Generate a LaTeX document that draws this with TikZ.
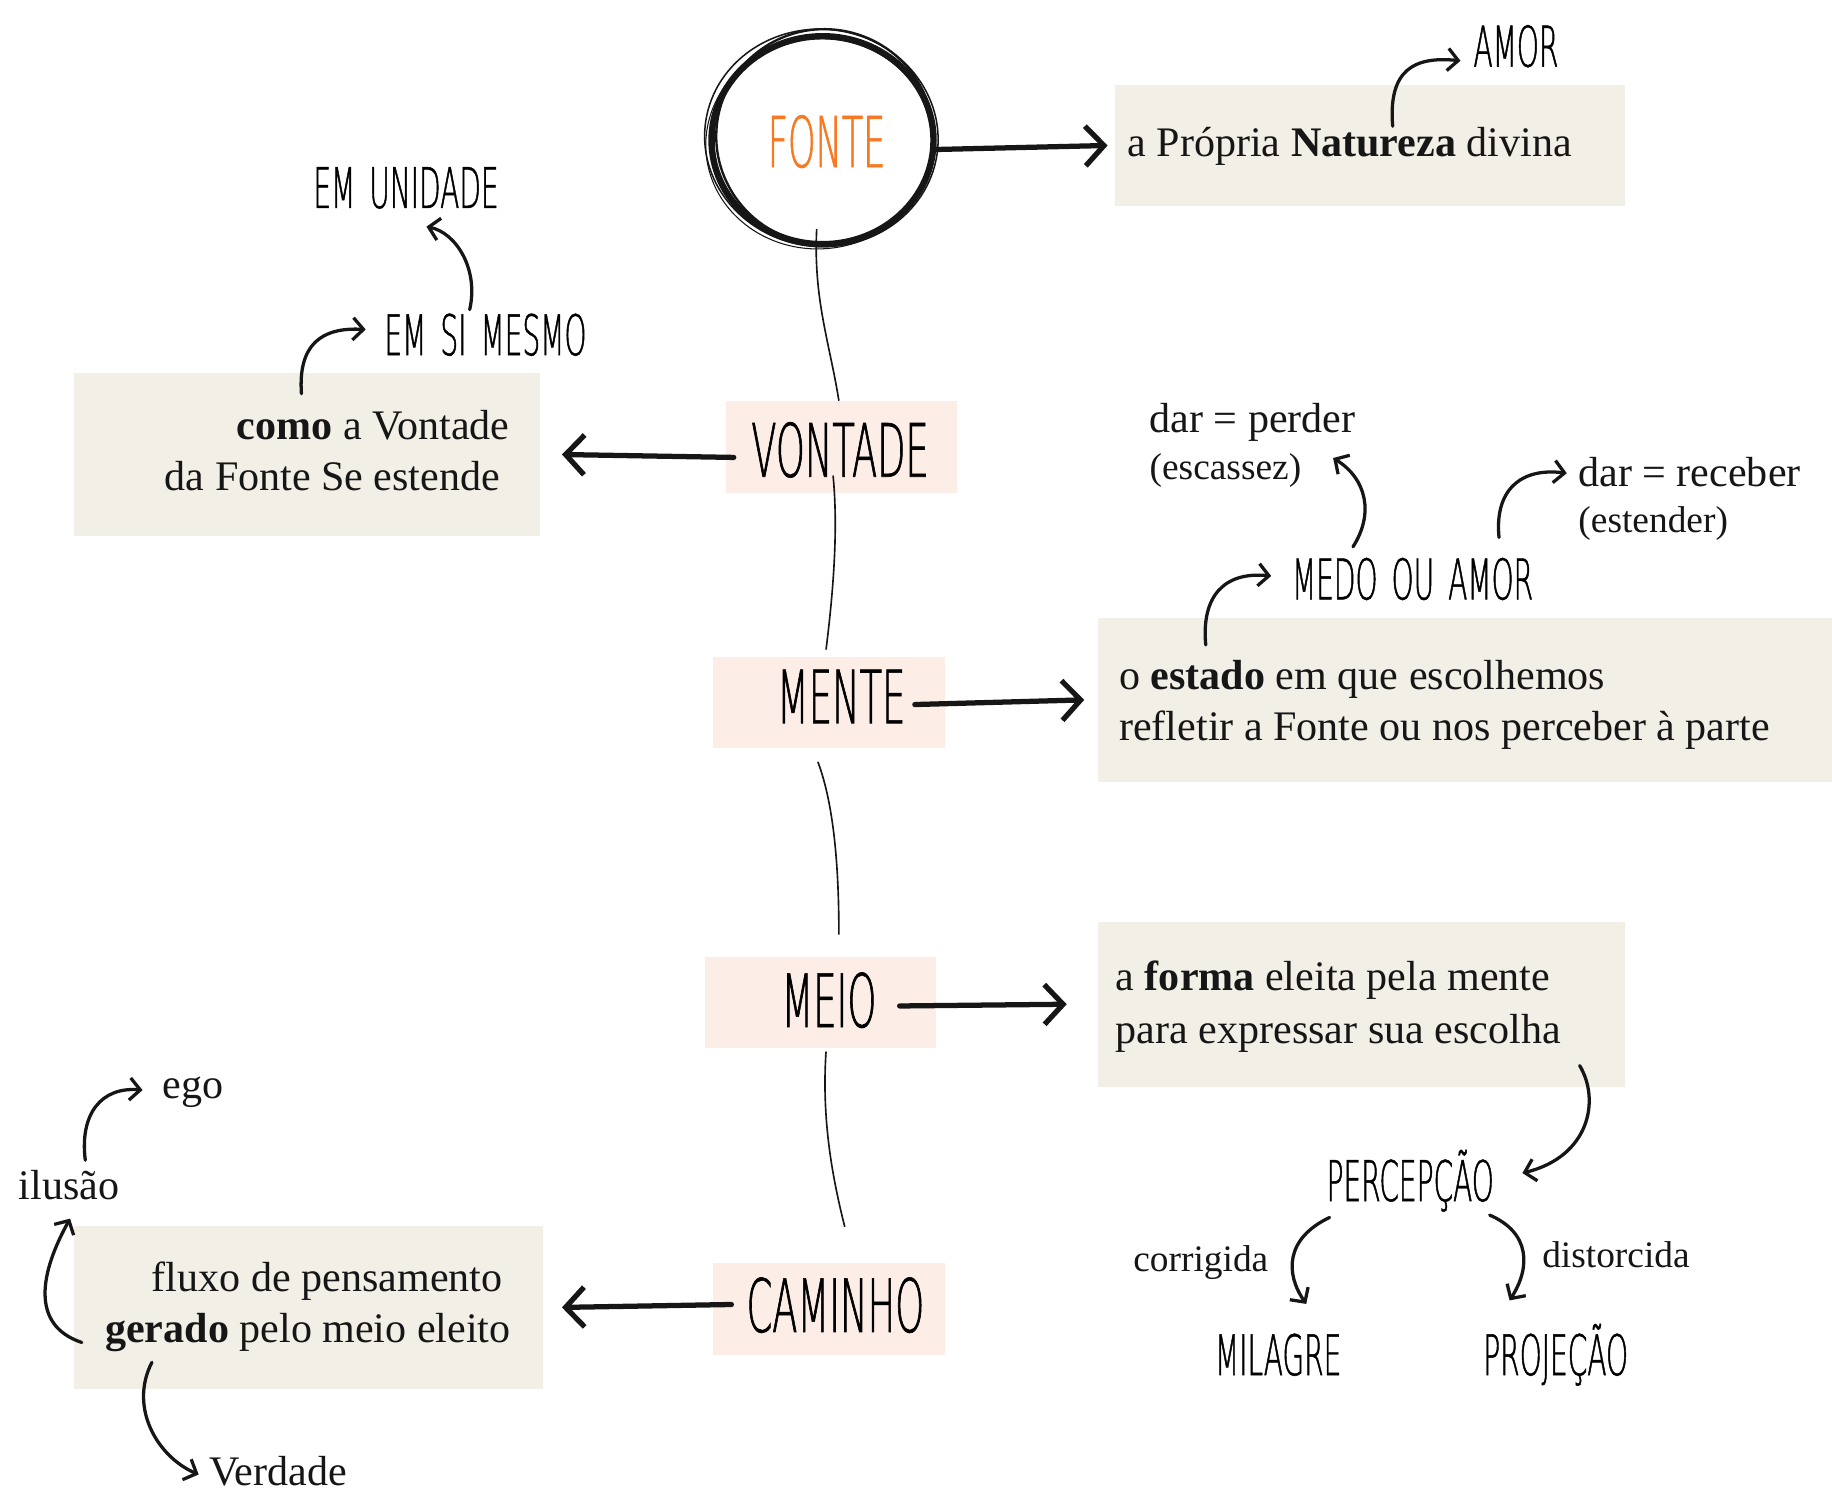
\documentclass[tikz,border=0pt]{standalone}
\usepackage{fontspec}
\setmainfont{Liberation Serif}
\IfFontExistsTF{DejaVu Sans ExtraLight}
  {\newfontfamily\handfont[FakeStretch=0.5,FakeBold=0.8]{DejaVu Sans ExtraLight}}
  {\newfontfamily\handfont[FakeStretch=0.5]{DejaVu Sans}}
\usetikzlibrary{arrows.meta,shapes.geometric}
\definecolor{beige}{RGB}{242,239,230}
\definecolor{pinkbg}{RGB}{252,237,230}
\definecolor{fonteorange}{RGB}{247,121,36}
\definecolor{ink}{RGB}{22,22,22}
\newcommand{\hsp}{\hspace{12pt}}
\tikzset{
  beigebox/.style={fill=beige, draw=none, inner sep=0pt, outer sep=0pt, anchor=north west},
  pinkbox/.style={fill=pinkbg, draw=none, inner sep=0pt, outer sep=0pt, anchor=north west},
  serif/.style={inner sep=0pt, outer sep=0pt, font=\fontsize{36}{44}\selectfont, text height=25pt, text depth=8pt, text=ink},
  smallserif/.style={inner sep=0pt, outer sep=0pt, font=\fontsize{32}{38}\selectfont, text height=22pt, text depth=7pt, text=ink},
  bighand/.style={inner sep=0pt, outer sep=0pt, anchor=base, font=\handfont\fontsize{63}{70}\selectfont, text=black},
  midhand/.style={inner sep=0pt, outer sep=0pt, anchor=base, font=\handfont\fontsize{48}{54}\selectfont, text=black},
  conn/.style={line width=1.4pt, draw=ink},
  bigarrow/.style={line width=4.5pt, draw=ink, line cap=round, -{Straight Barb[length=16pt,width=34pt]}},
  curvarrow/.style={line width=2.8pt, draw=ink, line cap=round, -{Straight Barb[length=9pt,width=19pt]}},
}
\begin{document}
\begin{tikzpicture}[x=1pt,y=-1pt]
\useasboundingbox[fill=white] (0,0) rectangle (1568,1278);

% ---------- boxes ----------
\node[beigebox, minimum width=437pt, minimum height=103pt] (box1) at (954,73) {};
\node[beigebox, minimum width=399pt, minimum height=140pt] (box2) at (63,319) {};
\node[beigebox, minimum width=628pt, minimum height=140pt] (box3) at (940,529) {};
\node[beigebox, minimum width=451pt, minimum height=141pt] (box4) at (940,789) {};
\node[beigebox, minimum width=402pt, minimum height=140pt] (box5) at (63,1049) {};

\node[pinkbox, minimum width=198pt, minimum height=79pt] (vontade) at (621,343) {};
\node[pinkbox, minimum width=199pt, minimum height=78pt] (mente) at (610,562) {};
\node[pinkbox, minimum width=198pt, minimum height=78pt] (meio) at (603,819) {};
\node[pinkbox, minimum width=199pt, minimum height=79pt] (caminho) at (610,1081) {};

% ---------- FONTE circle ----------
\node[ellipse, draw=ink, line width=5.5pt, minimum width=190pt, minimum height=178pt, inner sep=0pt, outer sep=0pt] (fonte) at (704,120) {};
\draw[ink, line width=1.3pt, rotate around={-6:(703,118)}] (703,118) ellipse [x radius=100, y radius=93];
\draw[ink, line width=0.9pt, rotate around={5:(701,123)}] (701,123) ellipse [x radius=97, y radius=90];
\draw[ink, line width=2pt, rotate around={-12:(706,117)}] (706,117) ellipse [x radius=93, y radius=92];
\node[bighand, text=fonteorange, font=\handfont\fontsize{60}{64}\selectfont] (fontetxt) at (707.5,143) {FONTE};

% ---------- big hand texts ----------
\node[bighand] (vontadetxt) at (719,408) {VONTADE};
\node[bighand] (mentetxt) at (720,619) {MENTE};
\node[bighand] (meiotxt) at (709.5,879) {MEIO};
\node[bighand] (caminhotxt) at (715,1140) {CAMINHO};

% ---------- mid hand texts ----------
\node[midhand] (amor) at (1297.5,57) {AMOR};
\node[midhand] (emunidade) at (347.5,178) {EM\hsp UNIDADE};
\node[midhand] (emsi) at (415.5,304) {EM\hsp SI\hsp MESMO};
\node[midhand] (medo) at (1209,513) {MEDO\hsp OU\hsp AMOR};
\node[midhand] (percepcao) at (1207,1028) {PERCEPÇÃO};
\node[midhand] (milagre) at (1094,1177) {MILAGRE};
\node[midhand] (projecao) at (1331.5,1177) {PROJEÇÃO};

% ---------- serif texts ----------
\node[serif, anchor=base west] (t1) at (965,134) {a Própria \textbf{Natureza} divina};
\node[serif, anchor=base east] (t2a) at (436,376) {\textbf{como} a Vontade};
\node[serif, anchor=base east] (t2b) at (428,420) {da Fonte Se estende};
\node[serif, anchor=base west] (t3a) at (958,590) {o \textbf{estado} em que escolhemos};
\node[serif, anchor=base west] (t3b) at (958,634) {refletir a Fonte ou nos perceber à parte};
\node[serif, anchor=base west] (t4a) at (955,848) {a \textbf{forma} eleita pela mente};
\node[serif, anchor=base west] (t4b) at (955,893) {para expressar sua escolha};
\node[serif, anchor=base east] (t5a) at (430,1105) {fluxo de pensamento};
\node[serif, anchor=base east] (t5b) at (437,1149) {\textbf{gerado} pelo meio eleito};

\node[serif, anchor=base west] (darperder) at (984,370) {dar = perder};
\node[smallserif, anchor=base west] (escassez) at (984,410) {(escassez)};
\node[serif, anchor=base west] (darreceber) at (1351,416) {dar = receber};
\node[smallserif, anchor=base west] (estender) at (1351,456) {(estender)};
\node[smallserif, anchor=base west] (corrigida) at (970,1088) {corrigida};
\node[smallserif, anchor=base west] (distorcida) at (1320,1085) {distorcida};
\node[serif, anchor=base west] (ilusao) at (16,1027) {ilusão};
\node[serif, anchor=base west] (ego) at (139,940) {ego};
\node[serif, anchor=base west] (verdade) at (179,1271) {Verdade};

% ---------- thin connectors (spine) ----------
\draw[conn] ([xshift=-5pt,yshift=13pt]fonte.south) .. controls +(-3,60) and +(-8,-50) .. ([xshift=-2pt]vontade.north);
\draw[conn] ([xshift=-7pt,yshift=15pt]vontade.south) .. controls +(5,50) and +(5,-40) .. ([xshift=-2.5pt,yshift=6pt]mente.north);
\draw[conn] ([xshift=-9.5pt,yshift=-12pt]mente.south) .. controls +(15,40) and +(0,-50) .. ([xshift=16pt,yshift=19pt]meio.north);
\draw[conn] ([xshift=5pt,yshift=-3pt]meio.south) .. controls +(-4,60) and +(-10,-40) .. ([xshift=13.5pt,yshift=31pt]caminho.north);

% ---------- big arrows ----------
\draw[bigarrow] ([yshift=-8pt]fonte.east) -- ([xshift=-6pt]box1.west);
\draw[bigarrow] ([xshift=7pt,yshift=-9pt]vontade.west) -- ([xshift=19pt]box2.east);
\draw[bigarrow] ([xshift=-26pt,yshift=-2pt]mente.east) -- ([xshift=-12pt]box3.west);
\draw[bigarrow] ([xshift=-31pt,yshift=-3pt]meio.east) -- ([xshift=-27pt]box4.west);
\draw[bigarrow] ([xshift=16pt,yshift=4pt]caminho.west) -- ([xshift=16pt]box5.east);

% ---------- small curved arrows ----------
\draw[curvarrow] ([xshift=238pt,yshift=-35pt]box1.north west) .. controls +(-4,-48) and +(-40,-4) .. ([xshift=-47.5pt,yshift=5pt]amor.base);
\draw[curvarrow] ([xshift=195pt,yshift=-18pt]box2.north west) .. controls +(-3,-42) and +(-38,-2) .. ([xshift=-102.5pt,yshift=22pt]emsi.base);
\draw[curvarrow] ([xshift=-13.5pt,yshift=39pt]emsi.base) .. controls +(8,-35) and +(25,5) .. ([xshift=17.5pt,yshift=-16pt]emunidade.base);
\draw[curvarrow] ([xshift=92pt,yshift=-23pt]box3.north west) .. controls +(-4,-42) and +(-40,-4) .. ([xshift=-121pt,yshift=20pt]medo.base);
\draw[curvarrow] ([xshift=-51pt,yshift=45pt]medo.base) .. controls +(18,-28) and +(29,18) .. ([xshift=157pt,yshift=18pt]escassez.base west);
\draw[curvarrow] ([xshift=74pt,yshift=53pt]medo.base) .. controls +(-4,-40) and +(-40,-5) .. ([xshift=-10pt,yshift=11pt]darreceber.base west);
\draw[curvarrow] ([xshift=-39pt,yshift=18pt]box4.south east) .. controls +(18,30) and +(57,-14) .. ([xshift=96pt,yshift=24pt]percepcao.base);
\draw[curvarrow] ([xshift=-69pt,yshift=-14pt]percepcao.base) .. controls +(-38,18) and +(-18,-26) .. ([xshift=24pt,yshift=61pt]milagre.base);
\draw[curvarrow] ([xshift=68pt,yshift=-12pt]percepcao.base) .. controls +(35,15) and +(18,-28) .. ([xshift=-39.5pt,yshift=64pt]projecao.base);
\draw[curvarrow] ([xshift=57pt,yshift=34pt]ilusao.base west) .. controls +(-5,-40) and +(-35,-3) .. ([xshift=-17pt,yshift=7pt]ego.base west);
\draw[curvarrow] ([xshift=7pt,yshift=-100pt]box5.north west) .. controls +(-45,-15) and +(-25,45) .. ([xshift=44pt,yshift=-16pt]ilusao.base west);
\draw[curvarrow] ([xshift=67pt,yshift=23pt]box5.south west) .. controls +(-20,39) and +(-35,-15) .. ([xshift=-9pt,yshift=9pt]verdade.base west);
\end{tikzpicture}
\end{document}
